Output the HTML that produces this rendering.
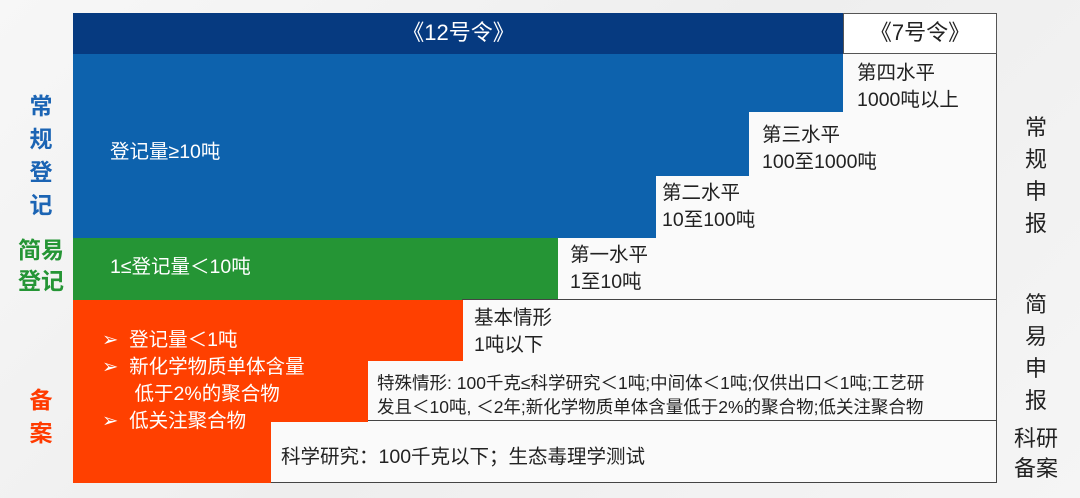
<!DOCTYPE html>
<html><head><meta charset="utf-8"><style>
body{margin:0;width:1080px;height:498px;background:linear-gradient(135deg,#f7f7f7,#eeeeee 50%,#f5f5f5);position:relative;overflow:hidden;font-family:"Liberation Sans","Noto Sans CJK SC",sans-serif;}
div{position:absolute;box-sizing:border-box;}
.t{font-size:19.5px;line-height:27px;color:#222;white-space:nowrap;}
.w{color:#fff;}
.vl{font-size:23px;line-height:33px;font-weight:bold;text-align:center;width:40px;}
.vr{font-size:22px;line-height:32px;text-align:center;width:40px;color:#222;}
</style></head><body>
<div style="left:73px;top:13px;width:771px;height:41px;background:#063a80;"></div>
<div class="t w" style="left:73px;top:19px;width:771px;text-align:center;font-size:22px;">《12号令》</div>
<div style="left:843px;top:13px;width:154px;height:41px;background:#fff;border:1px solid #555;"></div>
<div class="t" style="left:843px;top:19px;width:154px;text-align:center;font-size:22px;">《7号令》</div>
<div style="left:73px;top:54px;width:924px;height:429px;background:#fafafa;border:1px solid #444;border-top:none;"></div>
<div style="left:73px;top:54px;width:770px;height:58px;background:#0d62ad;"></div>
<div style="left:73px;top:112px;width:676px;height:64px;background:#0d62ad;"></div>
<div style="left:73px;top:175px;width:583px;height:63px;background:#0d62ad;"></div>
<div style="left:73px;top:238px;width:485px;height:62px;background:#259535;"></div>
<div style="left:462px;top:299px;width:535px;height:1px;background:#444;"></div>
<div style="left:367px;top:420px;width:630px;height:1px;background:#444;"></div>
<div style="left:73px;top:300px;width:390px;height:61px;background:#ff4000;"></div>
<div style="left:73px;top:360px;width:295px;height:62px;background:#ff4000;"></div>
<div style="left:73px;top:421px;width:198px;height:62px;background:#ff4000;"></div>
<div class="t w" style="left:110px;top:139px;">登记量≥10吨</div>
<div class="t w" style="left:110px;top:254px;">1≤登记量＜10吨</div>
<div class="t w" style="left:102px;top:327px;">➢&nbsp; 登记量＜1吨<br>➢&nbsp; 新化学物质单体含量<br>&nbsp;&nbsp;&nbsp;&nbsp;&nbsp; 低于2%的聚合物<br>➢&nbsp; 低关注聚合物</div>
<div class="t" style="left:857px;top:60px;">第四水平<br>1000吨以上</div>
<div class="t" style="left:762px;top:122px;">第三水平<br>100至1000吨</div>
<div class="t" style="left:662px;top:180px;">第二水平<br>10至100吨</div>
<div class="t" style="left:570px;top:242px;">第一水平<br>1至10吨</div>
<div class="t" style="left:474px;top:305px;">基本情形<br>1吨以下</div>
<div class="t" style="left:377px;top:371px;font-size:17.5px;line-height:24px;">特殊情形: 100千克≤科学研究＜1吨;中间体＜1吨;仅供出口＜1吨;工艺研<br>发且＜10吨, ＜2年;新化学物质单体含量低于2%的聚合物;低关注聚合物</div>
<div class="t" style="left:281px;top:444px;">科学研究：100千克以下；生态毒理学测试</div>
<div class="vl" style="left:21px;top:90px;color:#1b64b4;">常<br>规<br>登<br>记</div>
<div class="vl" style="left:12px;top:235px;width:58px;line-height:31px;color:#259535;">简易<br>登记</div>
<div class="vl" style="left:21px;top:384px;color:#ff3b00;">备<br>案</div>
<div class="vr" style="left:1016px;top:112px;">常<br>规<br>申<br>报</div>
<div class="vr" style="left:1016px;top:289px;">简<br>易<br>申<br>报</div>
<div class="vr" style="left:1006px;top:424px;width:60px;line-height:30px;">科研<br>备案</div>
</body></html>
